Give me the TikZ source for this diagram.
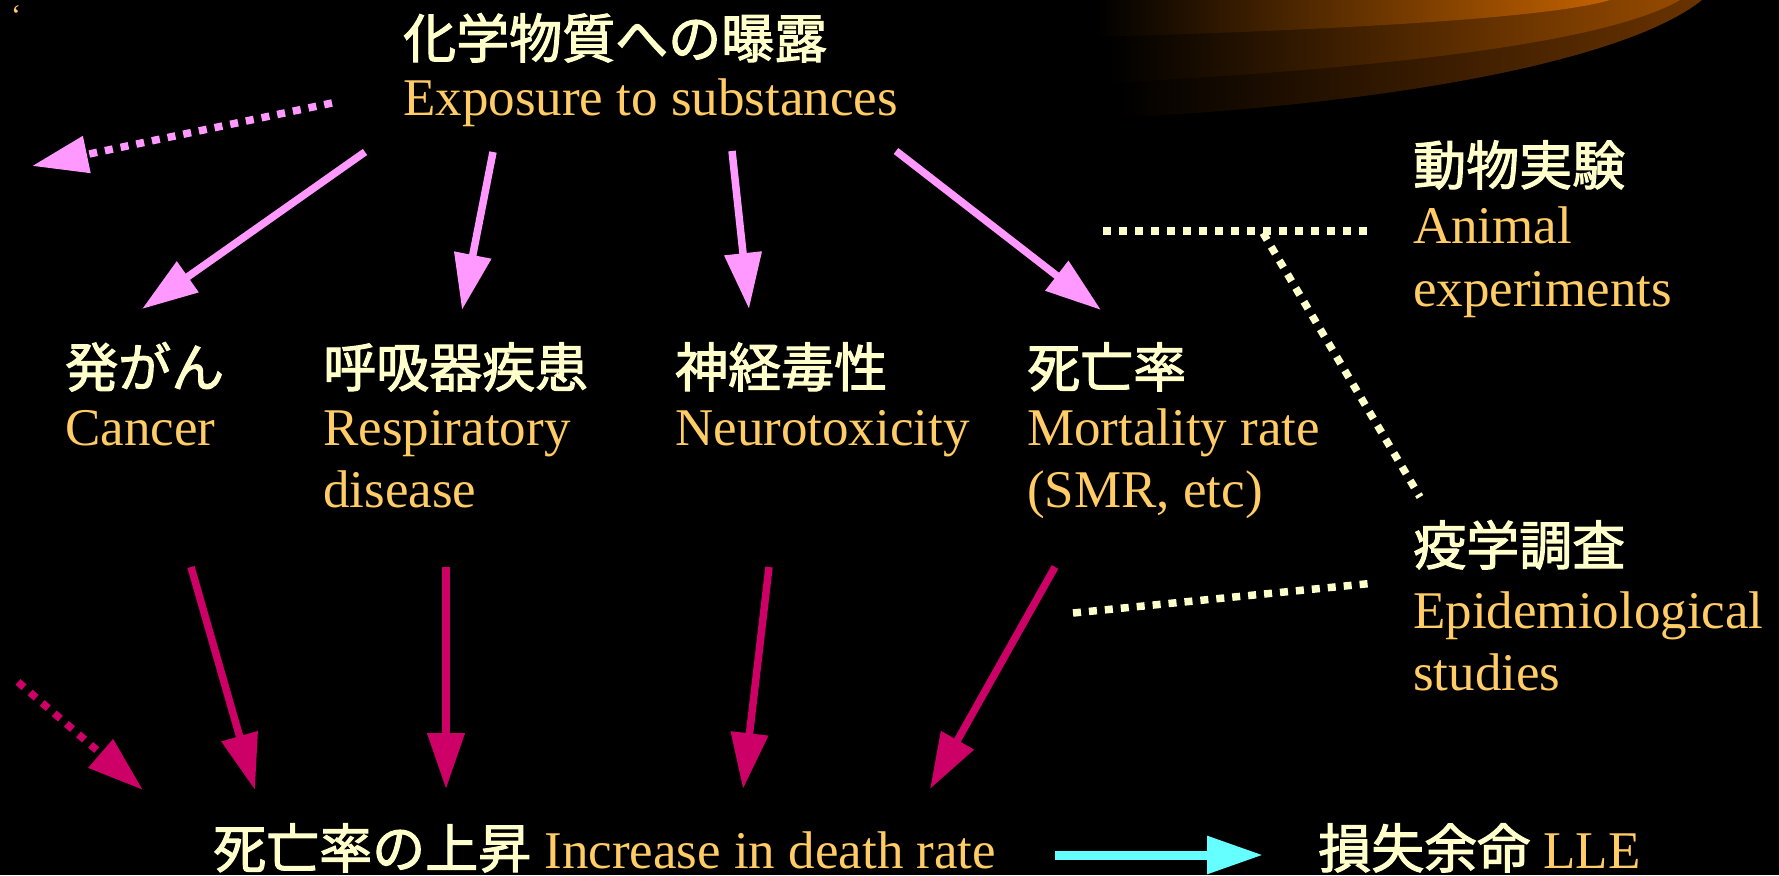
\documentclass[tikz,border=0pt]{standalone}
\usepackage{fontspec}
\setmainfont{Liberation Serif}
\newfontfamily\cjk[FakeBold=2]{Noto Sans CJK JP}
\usetikzlibrary{arrows.meta}
\definecolor{cream}{HTML}{FFFFCC}
\definecolor{gold}{HTML}{FFCC66}
\definecolor{lpink}{HTML}{FF99FF}
\definecolor{dpink}{HTML}{CC0066}
\definecolor{cyanA}{HTML}{66FFFF}
\definecolor{orA}{HTML}{C46200}
\definecolor{orB}{HTML}{964A00}
\definecolor{orC}{HTML}{6A3300}
\begin{document}
\begin{tikzpicture}[x=1pt,y=-1pt,
  jp/.style={anchor=base west,inner sep=0pt,text=cream,font=\cjk\fontsize{53}{60}\selectfont},
  en/.style={anchor=base west,inner sep=0pt,text=gold,font=\fontsize{53}{60}\selectfont},
  arr/.style={line width=7.5pt,-{Triangle[length=56pt,width=36pt]}},
  dotline/.style={line width=7.5pt,dash pattern=on 8pt off 8pt},
]
\fill[black] (0,0) rectangle (1779,875);
\useasboundingbox (0,0) rectangle (1779,875);
% swoosh
\shade[left color=black,right color=orC] (1117,0) -- (1117,118) .. controls (1450,100) and (1640,50) .. (1702,0) -- cycle;
\shade[left color=black,right color=orB] (1108,0) -- (1108,83) .. controls (1450,65) and (1620,35) .. (1680,0) -- cycle;
\shade[left color=black,right color=orA] (1096,0) -- (1096,37) .. controls (1400,28) and (1560,15) .. (1610,0) -- cycle;
% tick mark
\node[anchor=base west,inner sep=0pt,text=gold,font=\fontsize{30}{32}\selectfont] (tick) at (11,26) {\char96};
% texts
\node[jp] (topj) at (403,58) {化学物質への曝露};
\node[en] (tope) at (403,115) {Exposure to substances};
\node[jp] (anij) at (1413,185) {動物実験};
\node[en] (anie1) at (1413,243) {Animal};
\node[en] (anie2) at (1413,306) {experiments};
\node[jp] (canj) at (65,387) {発がん};
\node[en] (cane) at (65,445) {Cancer};
\node[jp] (resj) at (323,387) {呼吸器疾患};
\node[en] (rese1) at (323,445) {Respiratory};
\node[en] (rese2) at (323,507) {disease};
\node[jp] (neuj) at (675,387) {神経毒性};
\node[en] (neue) at (675,445) {Neurotoxicity};
\node[jp] (morj) at (1027,387) {死亡率};
\node[en] (more1) at (1027,445) {Mortality rate};
\node[en] (more2) at (1027,507) {(SMR, etc)};
\node[jp] (epij) at (1413,565) {疫学調査};
\node[en] (epie1) at (1413,628) {Epidemiological};
\node[en] (epie2) at (1413,690) {studies};
\node[en] (rise) at (213,868) {\textcolor{cream}{\cjk 死亡率の上昇} Increase in death rate};
\node[en] (lle) at (1318,868) {\textcolor{cream}{\cjk 損失余命} LLE};
% coordinates
\coordinate (a1) at (332,103); \coordinate (a2) at (32,166);
\coordinate (b1) at (365,152); \coordinate (b2) at (142,309);
\coordinate (c1) at (493,152); \coordinate (c2) at (462,310);
\coordinate (d1) at (732,151); \coordinate (d2) at (749,309);
\coordinate (e1) at (896,151); \coordinate (e2) at (1101,310);
\coordinate (f1) at (191,567); \coordinate (f2) at (255,790);
\coordinate (g1) at (446,567); \coordinate (g2) at (446,789);
\coordinate (h1) at (769,567); \coordinate (h2) at (743,789);
\coordinate (i1) at (1055,567); \coordinate (i2) at (930,789);
\coordinate (j1) at (18,682); \coordinate (j2) at (143,790);
\coordinate (k1) at (1103,231); \coordinate (k2) at (1367,231);
\coordinate (l1) at (1263,233); \coordinate (l2) at (1420,497);
\coordinate (m1) at (1073,613); \coordinate (m2) at (1375,583);
\coordinate (n1) at (1055,855); \coordinate (n2) at (1263,855);
% arrows
\draw[arr,lpink,dotline] (a1) -- (a2);
\draw[arr,lpink] (b1) -- (b2);
\draw[arr,lpink] (c1) -- (c2);
\draw[arr,lpink] (d1) -- (d2);
\draw[arr,lpink] (e1) -- (e2);
\draw[arr,dpink] (f1) -- (f2);
\draw[arr,dpink] (g1) -- (g2);
\draw[arr,dpink] (h1) -- (h2);
\draw[arr,dpink] (i1) -- (i2);
\draw[arr,dpink,dotline] (j1) -- (j2);
\draw[dotline,cream] (k1) -- (k2);
\draw[dotline,cream] (l1) -- (l2);
\draw[dotline,cream] (m1) -- (m2);
\draw[arr,cyanA,line width=9pt] (n1) -- (n2);
\end{tikzpicture}
\end{document}
